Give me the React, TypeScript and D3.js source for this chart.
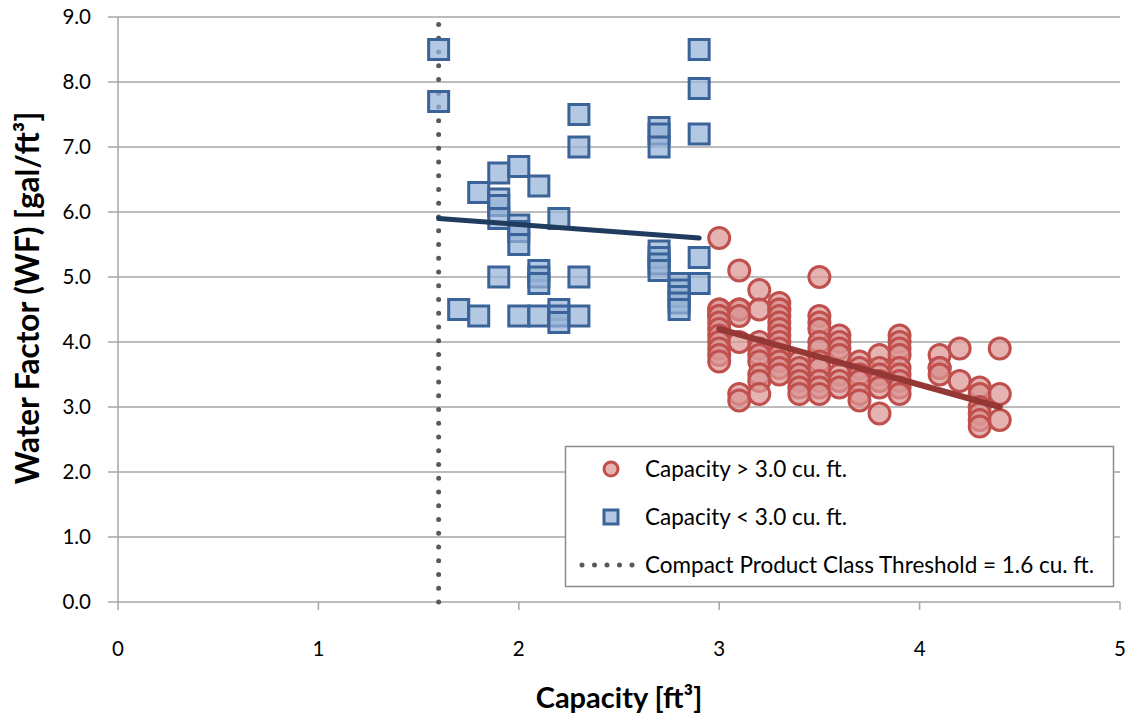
import React from "react";
import * as d3 from "d3";

// Capacity < 3.0 cu. ft. (blue squares): [capacity, WF]
const smallX = [1.6, 1.6, 2.9, 2.9, 2.9, 2.3, 2.3, 2.7, 2.7, 2.7, 1.8, 1.9, 1.9, 1.9, 1.9, 2.0, 2.1, 2.0, 2.0, 2.0, 2.2, 2.7, 2.7, 2.7, 2.7, 2.9, 2.9, 1.9, 2.1, 2.1, 2.1, 2.3, 2.8, 2.8, 2.8, 2.8, 2.8, 1.7, 1.8, 2.0, 2.1, 2.2, 2.2, 2.2, 2.3];
const smallY = [8.5, 7.7, 8.5, 7.9, 7.2, 7.5, 7.0, 7.3, 7.2, 7.0, 6.3, 6.6, 6.2, 6.1, 5.9, 6.7, 6.4, 5.8, 5.7, 5.5, 5.9, 5.4, 5.3, 5.2, 5.1, 5.3, 4.9, 5.0, 5.1, 5.0, 4.9, 5.0, 4.9, 4.8, 4.7, 4.6, 4.5, 4.5, 4.4, 4.4, 4.4, 4.5, 4.4, 4.3, 4.4];

// Capacity > 3.0 cu. ft. (red circles), grouped by capacity column
const largeCols = [3.0, 3.1, 3.2, 3.3, 3.4, 3.5, 3.6, 3.7, 3.8, 3.9, 4.1, 4.2, 4.3, 4.4];
const largeVals = [
  [5.6, 4.5, 4.5, 4.4, 4.4, 4.3, 4.2, 4.1, 4.0, 3.9, 3.8, 3.7],
  [5.1, 4.5, 4.5, 4.4, 4.0, 3.2, 3.1],
  [4.8, 4.5, 4.0, 3.9, 3.8, 3.7, 3.5, 3.4, 3.2],
  [4.6, 4.5, 4.5, 4.4, 4.3, 4.2, 4.1, 4.0, 3.9, 3.8, 3.7, 3.6, 3.5],
  [3.7, 3.6, 3.5, 3.4, 3.3, 3.2],
  [5.0, 4.4, 4.3, 4.2, 4.0, 3.9, 3.7, 3.6, 3.4, 3.3, 3.2],
  [4.1, 4.0, 3.9, 3.8, 3.5, 3.4, 3.3],
  [3.7, 3.6, 3.5, 3.4, 3.2, 3.1],
  [3.8, 3.6, 3.5, 3.4, 3.3, 2.9],
  [4.1, 4.0, 3.9, 3.8, 3.6, 3.5, 3.4, 3.3, 3.2],
  [3.8, 3.6, 3.6, 3.5],
  [3.9, 3.4],
  [3.3, 3.2, 3.0, 2.9, 2.8, 2.7],
  [3.9, 3.2, 2.8],
];

// Trend lines [x0, y0, x1, y1]
const smallTrend = [1.6, 5.9, 2.9, 5.6];
const largeTrend = [3.0, 4.2, 4.4, 3.0];

const threshold = 1.6;
const xTicks = [0, 1, 2, 3, 4, 5];
const yTicks = [0, 1, 2, 3, 4, 5, 6, 7, 8, 9];

const legendLabels = [
  "Capacity > 3.0 cu. ft.",
  "Capacity < 3.0 cu. ft.",
  "Compact Product Class Threshold = 1.6 cu. ft.",
];

const W = 1134;
const H = 719;
const FONT = "Lato, 'Liberation Sans', sans-serif";

export default function App() {
  const x = d3.scaleLinear().domain([0, 5]).range([118, 1120]);
  const y = d3.scaleLinear().domain([0, 9]).range([602, 17]);
  const grid = "#A6A6A6";
  const sq = 20;

  const large: [number, number][] = [];
  largeCols.forEach((c, i) => largeVals[i].forEach((v) => large.push([c, v])));

  const line = d3.line<[number, number]>().x((d) => x(d[0])).y((d) => y(d[1]));

  return (
    <svg width={W} height={H} style={{ position: "absolute", left: 0, top: 0 }} fontFamily={FONT}>
      <rect width={W} height={H} fill="#fff" />
      {yTicks.map((t) => (
        <g key={t}>
          <line x1={108} x2={1120} y1={y(t)} y2={y(t)} stroke={grid} strokeWidth={1.5} />
          <text x={91} y={y(t)} dy="0.35em" textAnchor="end" fontSize={20.5} fill="#000">
            {t.toFixed(1)}
          </text>
        </g>
      ))}
      <line x1={x(0)} x2={x(0)} y1={y(9)} y2={y(0)} stroke={grid} strokeWidth={1.5} />
      {xTicks.map((t) => (
        <g key={t}>
          <line x1={x(t)} x2={x(t)} y1={y(0)} y2={y(0) + 8} stroke={grid} strokeWidth={1.5} />
          <text x={x(t)} y={656} textAnchor="middle" fontSize={20.5} fill="#000">
            {t}
          </text>
        </g>
      ))}

      {/* threshold dotted line */}
      <line
        x1={x(threshold)}
        x2={x(threshold)}
        y1={y(0)}
        y2={y(9)}
        stroke="#595959"
        strokeWidth={5}
        strokeLinecap="round"
        strokeDasharray="0 13.75"
      />

      {/* squares */}
      {smallX.map((cx, i) => (
        <rect
          key={"s" + i}
          x={x(cx) - sq / 2}
          y={y(smallY[i]) - sq / 2}
          width={sq}
          height={sq}
          fill="rgba(149,179,215,0.72)"
          stroke="#3A6399"
          strokeWidth={3}
        />
      ))}

      {/* circles */}
      {large.map((d, i) => (
        <circle
          key={"c" + i}
          cx={x(d[0])}
          cy={y(d[1])}
          r={10.5}
          fill="rgba(217,150,148,0.72)"
          stroke="#C0504D"
          strokeWidth={3}
        />
      ))}

      <path
        d={line([[smallTrend[0], smallTrend[1]], [smallTrend[2], smallTrend[3]]]) || ""}
        stroke="#1F3B5E"
        strokeWidth={5}
        strokeLinecap="round"
        fill="none"
      />
      <path
        d={line([[largeTrend[0], largeTrend[1]], [largeTrend[2], largeTrend[3]]]) || ""}
        stroke="#953735"
        strokeWidth={6}
        strokeLinecap="round"
        fill="none"
      />

      {/* legend */}
      <rect x={565.5} y={446.5} width={548} height={140} fill="#fff" stroke="#8C8C8C" strokeWidth={1.5} />
      <circle cx={611} cy={469} r={7} fill="rgba(217,150,148,0.72)" stroke="#C0504D" strokeWidth={3} />
      <rect x={604} y={510} width={14} height={14} fill="rgba(149,179,215,0.72)" stroke="#3A6399" strokeWidth={3} />
      <line x1={582} x2={640} y1={565} y2={565} stroke="#595959" strokeWidth={5} strokeLinecap="round" strokeDasharray="0 12.5" />
      {legendLabels.map((l, i) => (
        <text key={l} x={645} y={[469, 517, 565][i]} dy="0.35em" fontSize={22.5} fill="#000">
          {l}
        </text>
      ))}

      <text x={619} y={708} textAnchor="middle" fontSize={29} fontWeight="bold" fill="#000">
        Capacity [ft³]
      </text>
      <text
        transform={`translate(39,${298}) rotate(-90)`}
        textAnchor="middle"
        fontSize={31.5}
        fontWeight="bold"
        fill="#000"
      >
        Water Factor (WF) [gal/ft³]
      </text>
    </svg>
  );
}
